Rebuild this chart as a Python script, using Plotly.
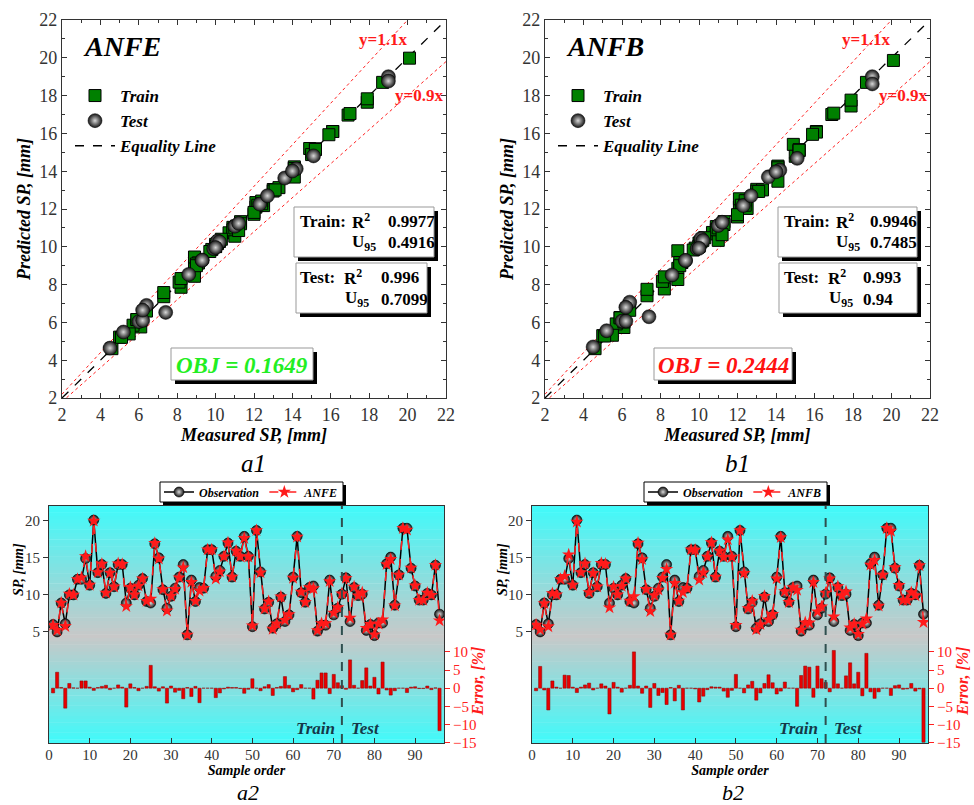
import plotly.graph_objects as go

W, H = 974, 805
SERIF = "Liberation Serif"

# ---------------- data ----------------
sample_order = list(range(1, 97))
n_train = 72

observed = [6.0, 5.0, 8.9, 6.1, 10.0, 10.0, 12.1, 12.1, 14.9, 11.3,
            20.1, 13.0, 14.1, 10.2, 13.0, 11.1, 14.1, 14.1, 8.9, 10.9,
            10.0, 11.3, 12.2, 9.1, 8.9, 16.9, 15.0, 10.7, 8.2, 9.8,
            10.9, 12.4, 14.1, 4.6, 12.0, 9.1, 11.0, 10.9, 16.1, 16.1,
            12.5, 13.3, 15.2, 17.0, 12.4, 15.9, 15.2, 17.9, 15.2, 5.7,
            18.7, 13.1, 8.1, 9.0, 5.5, 6.1, 9.7, 6.4, 7.3, 12.4,
            17.9, 10.3, 9.0, 11.0, 11.2, 5.1, 5.9, 5.9, 12.0, 7.3,
            8.2, 10.1, 12.3, 6.4, 11.0, 9.9, 10.1, 5.2, 6.0, 4.5,
            6.2, 6.2, 14.2, 15.1, 8.6, 12.7, 19.0, 19.0, 13.6, 11.2,
            9.3, 9.3, 10.2, 10.0, 14.0, 7.4]

pred_anfe = [5.92, 5.22, 8.92, 5.76, 10.13, 10.01, 12.10, 12.34, 15.20, 11.33,
             19.98, 13.03, 14.17, 10.28, 12.95, 11.10, 14.23, 14.14, 8.44, 11.03,
             10.02, 11.22, 12.20, 9.15, 9.46, 16.97, 14.88, 10.74, 7.86, 9.86,
             10.78, 12.33, 13.69, 4.61, 11.72, 9.15, 10.56, 10.90, 16.10, 16.10,
             12.18, 13.13, 15.17, 17.05, 12.42, 15.93, 15.18, 17.65, 15.15, 5.85,
             18.70, 13.01, 8.13, 9.09, 5.39, 6.11, 9.75, 6.60, 7.36, 12.28,
             17.83, 10.40, 9.00, 11.00, 10.86, 5.21, 6.15, 6.15, 11.82, 7.58,
             8.32, 10.17, 12.26, 6.90, 11.09, 9.90, 10.31, 5.49, 6.04, 4.64,
             6.10, 6.65, 14.13, 14.81, 8.54, 12.70, 19.00, 18.77, 13.64, 11.24,
             9.29, 9.29, 10.26, 9.96, 14.01, 6.53]

err_anfe = [-1.3, 4.4, 0.2, -5.5, 1.3, 0.1, 0.0, 2.0, 2.0, 0.3,
            -0.6, 0.2, 0.5, 0.8, -0.4, 0.0, 0.9, 0.3, -5.2, 1.2,
            0.2, -0.7, 0.0, 0.5, 6.3, 0.4, -0.8, 0.4, -4.1, 0.6,
            -1.1, -0.6, -2.9, 0.2, -2.3, 0.5, -4.0, 0.0, 0.0, 0.0,
            -2.6, -1.3, -0.2, 0.3, 0.2, 0.2, -0.1, -1.4, -0.3, 2.6,
            0.0, -0.7, 0.4, 1.0, -2.0, 0.2, 0.5, 3.2, 0.8, -1.0,
            -0.4, 1.0, 0.0, 0.0, -3.0, 2.2, 4.2, 4.2, -1.5, 3.8,
            1.5, 0.7, -0.3, 7.8, 0.8, 0.0, 2.1, 5.6, 0.6, 3.0,
            -1.6, 7.2, -0.5, -1.9, -0.7, 0.0, 0.0, -1.2, 0.3, 0.4,
            -0.1, -0.1, 0.6, -0.4, 0.1, -11.7]

pred_anfb = [5.96, 5.30, 8.86, 5.73, 10.20, 10.03, 12.10, 12.54, 15.42, 11.33,
             19.86, 13.04, 14.23, 10.34, 12.94, 11.10, 14.27, 14.18, 8.27, 11.07,
             10.03, 11.18, 12.20, 9.17, 9.79, 17.00, 14.79, 10.76, 7.77, 9.93,
             10.68, 12.25, 13.47, 4.61, 11.58, 9.17, 10.34, 10.90, 16.10, 16.07,
             12.03, 13.01, 15.14, 17.07, 12.44, 15.95, 15.08, 17.45, 15.11, 5.92,
             18.70, 12.93, 8.17, 9.17, 5.32, 6.02, 9.83, 6.64, 7.41, 12.20,
             17.76, 10.48, 9.00, 11.00, 10.64, 5.28, 6.26, 6.24, 11.70, 7.75,
             8.41, 10.26, 12.18, 7.07, 11.13, 9.90, 10.44, 5.56, 6.07, 4.70,
             6.07, 6.80, 14.06, 14.68, 8.51, 12.70, 19.00, 18.62, 13.70, 11.30,
             9.27, 9.28, 10.33, 9.92, 13.97, 6.30]

err_anfb = [-0.7, 6.0, -0.5, -6.0, 2.0, 0.3, 0.0, 3.6, 3.5, 0.3,
            -1.2, 0.3, 0.9, 1.4, -0.5, 0.0, 1.2, 0.6, -7.1, 1.6,
            0.3, -1.1, 0.0, 0.8, 10.0, 0.6, -1.4, 0.6, -5.3, 1.3,
            -2.0, -1.2, -4.5, 0.2, -3.5, 0.8, -6.0, 0.0, 0.0, -0.2,
            -3.8, -2.2, -0.4, 0.4, 0.3, 0.3, -0.8, -2.5, -0.6, 3.8,
            0.0, -1.3, 0.9, 1.9, -3.3, -1.3, 1.3, 3.7, 1.5, -1.6,
            -0.8, 1.7, 0.0, 0.0, -5.0, 3.5, 6.1, 5.8, -2.5, 6.1,
            2.6, 1.6, -1.0, 10.4, 1.2, 0.0, 3.4, 7.0, 1.2, 4.4,
            -2.1, 9.6, -1.0, -2.8, -1.0, 0.0, 0.0, -2.0, 0.7, 0.9,
            -0.3, -0.2, 1.3, -0.8, -0.2, -14.9]

model_names = ["ANFE", "ANFB"]
train_r2 = ["0.9977", "0.9946"]
train_u95 = ["0.4916", "0.7485"]
test_r2 = ["0.996", "0.993"]
test_u95 = ["0.7099", "0.94"]
obj_values = ["0.1649", "0.2444"]
obj_colors = ["#22ee22", "#ff1111"]

ref_x = [2, 22]
band_factors = [1.1, 0.9]
band_labels = ["y=1.1x", "y=0.9x"]
panel_labels = ["a1", "b1", "a2", "b2"]

# ---------------- helpers ----------------
def px(x):
    return x / W

def py(y):
    return 1 - y / H

fig = go.Figure()
shapes = []
annotations = []

def bfont(size, color="black", italic=False, bold=True):
    return dict(family=SERIF, size=size, color=color,
                weight="bold" if bold else "normal",
                style="italic" if italic else "normal")

def shadow_box(x0, y0, x1, y1, off=4, border="#999"):
    shapes.append(dict(type="rect", xref="paper", yref="paper",
                       x0=px(x0 + off), x1=px(x1 + off), y0=py(y1 + off), y1=py(y0 + off),
                       fillcolor="black", line=dict(width=0), layer="above"))
    shapes.append(dict(type="rect", xref="paper", yref="paper",
                       x0=px(x0), x1=px(x1), y0=py(y1), y1=py(y0),
                       fillcolor="white", line=dict(color=border, width=1), layer="above"))

def ptext(x, y, text, font, xanchor="center", **kw):
    annotations.append(dict(x=px(x), y=py(y), xref="paper", yref="paper",
                            text=text, showarrow=False, font=font,
                            xanchor=xanchor, yanchor="middle", **kw))

# radial gradient: marker.color = rim, gradient.color = centre
sphere = dict(symbol="circle", color="#141414",
              gradient=dict(type="radial", color="#d8d8d8"))

# ---------------- scatter panels (a1, b1) ----------------
scatter_cfg = [
    dict(xa="x", ya="y", leg="legend", pred=pred_anfe),
    dict(xa="x2", ya="y2", leg="legend2", pred=pred_anfb),
]
for i, cfg in enumerate(scatter_cfg):
    pred = cfg["pred"]
    for f in band_factors:
        fig.add_trace(go.Scatter(x=ref_x, y=[f * v for v in ref_x], mode="lines",
                                 line=dict(color="#ff2020", width=1, dash="dot"),
                                 showlegend=False, xaxis=cfg["xa"], yaxis=cfg["ya"]))
    fig.add_trace(go.Scatter(x=ref_x, y=ref_x, mode="lines", name="Equality Line",
                             line=dict(color="black", width=1.3, dash="dash"),
                             legend=cfg["leg"], legendrank=3,
                             xaxis=cfg["xa"], yaxis=cfg["ya"]))
    fig.add_trace(go.Scatter(x=observed[:n_train], y=pred[:n_train], mode="markers",
                             name="Train", legend=cfg["leg"], legendrank=1,
                             marker=dict(symbol="square", size=12, color="#008000",
                                         line=dict(color="black", width=1)),
                             xaxis=cfg["xa"], yaxis=cfg["ya"]))
    fig.add_trace(go.Scatter(x=observed[n_train:], y=pred[n_train:], mode="markers",
                             name="Test", legend=cfg["leg"], legendrank=2,
                             marker=dict(sphere, size=14, line=dict(color="#000", width=0.5)),
                             xaxis=cfg["xa"], yaxis=cfg["ya"]))
    annotations.append(dict(x=18.7, y=20.95, xref=cfg["xa"], yref=cfg["ya"], text=band_labels[0],
                            showarrow=False, font=bfont(17, "#ff1a1a")))
    annotations.append(dict(x=20.6, y=18.0, xref=cfg["xa"], yref=cfg["ya"], text=band_labels[1],
                            showarrow=False, font=bfont(17, "#ff1a1a")))
    annotations.append(dict(x=5.1, y=20.6, xref=cfg["xa"], yref=cfg["ya"], text=model_names[i],
                            showarrow=False, font=bfont(28, "black", italic=True)))

# stat boxes (pixel positions)
box_sets = [
    dict(tr=(294, 207, 434, 257), te=(296, 263, 427, 313), ob=(171, 348, 313, 380),
         lab_x=298, r_x=350, v_x=386),
    dict(tr=(778, 207, 917, 257), te=(779, 263, 917, 313), ob=(654, 348, 792, 380),
         lab_x=782, r_x=834, v_x=868),
]
for i, b in enumerate(box_sets):
    shadow_box(*b["tr"])
    shadow_box(*b["te"])
    shadow_box(*b["ob"])
    f = bfont(17)
    ptext(b["lab_x"], 221, "Train:", f, xanchor="left")
    ptext(b["r_x"], 221, "R<sup>2</sup>", f, xanchor="left")
    ptext(b["v_x"], 221, train_r2[i], f, xanchor="left")
    ptext(b["r_x"], 243, "U<sub>95</sub>", f, xanchor="left")
    ptext(b["v_x"], 243, train_u95[i], f, xanchor="left")
    ptext(b["lab_x"], 277, "Test:", f, xanchor="left")
    ptext(b["r_x"] - 8, 277, "R<sup>2</sup>", f, xanchor="left")
    ptext(b["v_x"] - 7, 277, test_r2[i], f, xanchor="left")
    ptext(b["r_x"] - 7, 299, "U<sub>95</sub>", f, xanchor="left")
    ptext(b["v_x"] - 7, 299, test_u95[i], f, xanchor="left")
    x0, y0, x1, y1 = b["ob"]
    ptext((x0 + x1) / 2, (y0 + y1) / 2 + 1, "OBJ = " + obj_values[i],
          bfont(23, obj_colors[i], italic=True))

# ---------------- time-series panels (a2, b2) ----------------
ts_cfg = [
    dict(xa="x3", ya="y3", ye="y5", leg="legend3", pred=pred_anfe, err=err_anfe, name="ANFE"),
    dict(xa="x4", ya="y4", ye="y6", leg="legend4", pred=pred_anfb, err=err_anfb, name="ANFB"),
]
cyan = (64, 250, 250)
gray = (200, 200, 200)
center = 0.45
nb = 70
for i, cfg in enumerate(ts_cfg):
    for k in range(nb):
        t0, t1 = k / nb, (k + 1) / nb
        t = (t0 + t1) / 2
        fr = (t - center) / (1 - center) if t > center else (center - t) / center
        col = tuple(round(g + (c - g) * fr) for g, c in zip(gray, cyan))
        shapes.append(dict(type="rect", xref=cfg["xa"] + " domain", yref=cfg["ya"] + " domain",
                           x0=0, x1=1, y0=t0, y1=t1 + 0.002, layer="below",
                           fillcolor="rgb(%d,%d,%d)" % col, line=dict(width=0)))
    fig.add_trace(go.Bar(x=sample_order, y=cfg["err"], width=0.78,
                         marker=dict(color="#e80000", line=dict(color="#8b0000", width=0.5)),
                         showlegend=False, xaxis=cfg["xa"], yaxis=cfg["ye"]))
    fig.add_trace(go.Scatter(x=sample_order, y=observed, mode="lines+markers", name="Observation",
                             legend=cfg["leg"],
                             line=dict(color="black", width=1.5),
                             marker=dict(sphere, size=10, line=dict(color="black", width=0.6)),
                             xaxis=cfg["xa"], yaxis=cfg["ya"]))
    fig.add_trace(go.Scatter(x=sample_order, y=cfg["pred"], mode="lines+markers", name=cfg["name"],
                             legend=cfg["leg"],
                             line=dict(color="#ff2020", width=1.5, dash="dash"),
                             marker=dict(symbol="star", size=10, color="#ff1a1a",
                                         line=dict(width=0)),
                             xaxis=cfg["xa"], yaxis=cfg["ya"]))
    shapes.append(dict(type="line", xref=cfg["xa"], yref=cfg["ya"] + " domain",
                       x0=n_train, x1=n_train, y0=0, y1=1, layer="above",
                       line=dict(color="#2f4f4f", width=2, dash="dash")))
    annotations.append(dict(x=65.4, y=-11.2, xref=cfg["xa"], yref=cfg["ye"], text="Train",
                            showarrow=False, font=bfont(17, "#143848", italic=True)))
    annotations.append(dict(x=77.7, y=-11.2, xref=cfg["xa"], yref=cfg["ye"], text="Test",
                            showarrow=False, font=bfont(17, "#143848", italic=True)))

# legend frames (box + shadow) for the time-series panels
shadow_box(160, 482, 343, 502, off=3, border="black")
shadow_box(644, 482, 827, 502, off=3, border="black")

for xc in [18, 502]:
    ptext(xc, 570, "SP, [mm]", bfont(14, italic=True), textangle=-90)
for xc in [477, 962]:
    ptext(xc, 682, "Error, [%]", bfont(16, "#ff1a1a", italic=True), textangle=-90)

for (xc, yc, size), lab in zip([(254, 463, 25), (737, 463, 25), (248, 792, 22), (733, 792, 22)],
                               panel_labels):
    annotations.append(dict(x=px(xc), y=py(yc), xref="paper", yref="paper",
                            text="<i>%s</i>" % lab, showarrow=False,
                            font=dict(family=SERIF, size=size, color="black"),
                            xanchor="center", yanchor="middle"))

# ---------------- axes ----------------
base = dict(showline=True, linecolor="#333", linewidth=1.2,
            ticklen=5, tickcolor="#333", tickwidth=1,
            showgrid=False, zeroline=False, automargin=False)
sc_tick = dict(family=SERIF, size=18, color="#333")
ts_tick = dict(family=SERIF, size=15, color="#333")

def sc_axis(domain, anchor, title):
    return dict(base, domain=domain, anchor=anchor, range=[2, 22], dtick=2, tick0=2,
                ticks="inside", mirror="ticks", tickfont=sc_tick,
                minor=dict(ticks="inside", ticklen=3, dtick=1, tickcolor="#333"),
                title=dict(text=title, font=bfont(18, italic=True), standoff=3))

y_top = [py(398), py(20)]
y_bot = [py(743), py(506)]
err_axis = dict(showline=False, ticks="outside", ticklen=5, tickcolor="#ff2020", showgrid=False,
                zeroline=False, side="right", automargin=False,
                range=[-15.1, 50.2], tickvals=[-15, -10, -5, 0, 5, 10],
                tickfont=dict(family=SERIF, size=15, color="#ff2020"))
ts_x = dict(base, ticks="inside", mirror=True, range=[0, 97.1], dtick=10, tick0=0,
            tickfont=ts_tick, ticklabelstandoff=-2,
            title=dict(text="Sample order", font=bfont(14, italic=True), standoff=0))
ts_y = dict(base, ticks="outside", mirror=True, range=[-10, 22], tickvals=[5, 10, 15, 20],
            tickfont=ts_tick)
fig.update_layout(
    xaxis=sc_axis([px(62), px(446)], "y", "Measured SP, [mm]"),
    yaxis=sc_axis(y_top, "x", "Predicted SP, [mm]"),
    xaxis2=sc_axis([px(545), px(930)], "y2", "Measured SP, [mm]"),
    yaxis2=sc_axis(y_top, "x2", "Predicted SP, [mm]"),
    xaxis3=dict(ts_x, domain=[px(49), px(444)], anchor="y3"),
    yaxis3=dict(ts_y, domain=y_bot, anchor="x3"),
    yaxis5=dict(err_axis, overlaying="y3", anchor="x3"),
    xaxis4=dict(ts_x, domain=[px(532), px(928)], anchor="y4"),
    yaxis4=dict(ts_y, domain=y_bot, anchor="x4"),
    yaxis6=dict(err_axis, overlaying="y4", anchor="x4"),
)

leg_sc = dict(bgcolor="rgba(0,0,0,0)", borderwidth=0, font=bfont(17, italic=True),
              itemwidth=40, tracegroupgap=0, xanchor="left", yanchor="top")
leg_ts = dict(bgcolor="rgba(0,0,0,0)", borderwidth=0, orientation="h",
              font=bfont(12, italic=True), itemwidth=30, xanchor="left", yanchor="middle")
fig.update_layout(
    legend=dict(leg_sc, x=px(70), y=py(78)),
    legend2=dict(leg_sc, x=px(553), y=py(78)),
    legend3=dict(leg_ts, x=px(159), y=py(492)),
    legend4=dict(leg_ts, x=px(643), y=py(492)),
)

fig.update_layout(width=W, height=H,
                  margin=dict(l=0, r=0, t=0, b=0, pad=0, autoexpand=False),
                  paper_bgcolor="white", plot_bgcolor="rgba(0,0,0,0)",
                  shapes=shapes, annotations=annotations, bargap=0.25,
                  font=dict(family=SERIF))

fig.write_html("out.html", config={"displayModeBar": False},
               post_script="document.body.style.margin='0px';")
